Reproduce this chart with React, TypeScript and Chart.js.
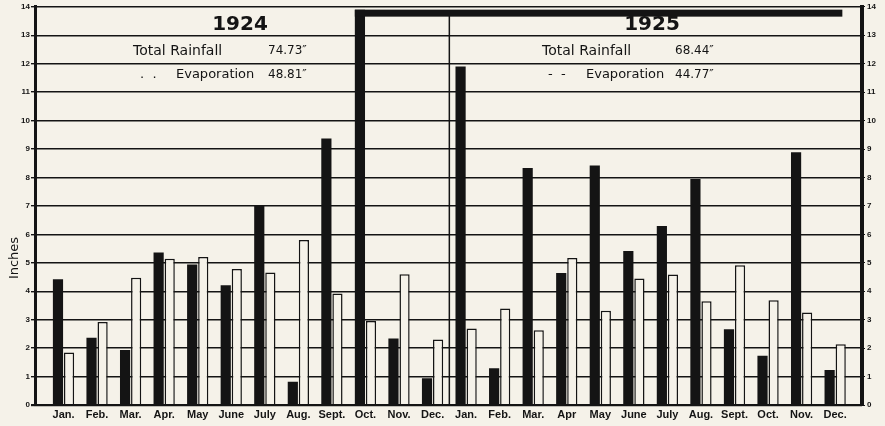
import React, { useEffect, useRef } from "react";
import { Chart, registerables } from "chart.js";

Chart.register(...registerables);

const months1924 = ["Jan.", "Feb.", "Mar.", "Apr.", "May", "June", "July", "Aug.", "Sept.", "Oct.", "Nov.", "Dec."];
const months1925 = ["Jan.", "Feb.", "Mar.", "Apr", "May", "June", "July", "Aug.", "Sept.", "Oct.", "Nov.", "Dec."];
const rainfall1924 = [4.42, 2.36, 1.93, 5.36, 4.94, 4.21, 7.0, 0.82, 9.37, 31.04, 2.34, 0.94];
const evaporation1924 = [1.85, 2.92, 4.47, 5.14, 5.2, 4.78, 4.66, 5.8, 3.92, 2.95, 4.6, 2.3];
const rainfall1925 = [11.9, 1.29, 8.33, 4.64, 8.42, 5.41, 6.29, 7.95, 2.66, 1.73, 8.89, 1.23];
const evaporation1925 = [2.69, 3.39, 2.63, 5.17, 3.31, 4.45, 4.59, 3.65, 4.91, 3.68, 3.25, 2.14];
const yearLabels = ["1924", "1925"];
const totalRainfall = ["74.73\u2033", "68.44\u2033"];
const totalEvaporation = ["48.81\u2033", "44.77\u2033"];
const yMin = 0;
const yMax = 14;
const turnValue = 13.9;

const BG = "#f5f2e9";
const INK = "#141414";

const labels = [...months1924, ...months1925];
const rainAll = [...rainfall1924, ...rainfall1925];
const evapAll = [...evaporation1924, ...evaporation1925];

const backgroundPlugin = {
  id: "bg",
  beforeDraw(chart: any) {
    const ctx = chart.ctx;
    ctx.save();
    ctx.fillStyle = BG;
    ctx.fillRect(0, 0, chart.width, chart.height);
    ctx.restore();
  },
};

const decorPlugin = {
  id: "decor",
  afterDatasetsDraw(chart: any) {
    const ctx = chart.ctx;
    const ys = chart.scales.y;
    const xs = chart.scales.x;
    const area = chart.chartArea;
    ctx.save();
    // year separator
    const sepX = (xs.getPixelForValue(months1924.length - 1) + xs.getPixelForValue(months1924.length)) / 2;
    ctx.strokeStyle = INK;
    ctx.lineWidth = 1.5;
    ctx.beginPath();
    ctx.moveTo(sepX, area.top + 4);
    ctx.lineTo(sepX, area.bottom);
    ctx.stroke();

    // overflow of bars beyond the top of the scale, wrapped along the top
    const meta = chart.getDatasetMeta(0);
    const perUnit = ys.getPixelForValue(0) - ys.getPixelForValue(1);
    meta.data.forEach((bar: any, i: number) => {
      const v = rainAll[i];
      if (v <= yMax) return;
      const { x, width } = bar.getProps(["x", "width"], true);
      const left = x - width / 2;
      const topY = ys.getPixelForValue(turnValue);
      const len = (v - turnValue) * perUnit;
      ctx.fillStyle = INK;
      ctx.fillRect(left, topY, len, 7);
    });

    // titles
    ctx.fillStyle = INK;
    ctx.textBaseline = "middle";
    const blocks = [
      { cx: 240, tl: 133, tv: 268, el: 176, dl: 140, ditto: ".  ." },
      { cx: 652, tl: 542, tv: 675, el: 586, dl: 548, ditto: "-  -" },
    ];
    blocks.forEach((b, i) => {
      ctx.textAlign = "center";
      ctx.font = "bold 20px 'DejaVu Sans'";
      ctx.fillText(yearLabels[i], b.cx, 25);
      ctx.textAlign = "left";
      ctx.font = "14px 'DejaVu Sans'";
      ctx.fillText("Total Rainfall", b.tl, 51);
      ctx.font = "12px 'DejaVu Sans'";
      ctx.fillText(totalRainfall[i], b.tv, 51);
      ctx.font = "13px 'DejaVu Sans'";
      ctx.fillText(b.ditto, b.dl, 75);
      ctx.fillText("Evaporation", b.el, 75);
      ctx.font = "12px 'DejaVu Sans'";
      ctx.fillText(totalEvaporation[i], b.tv, 75);
    });

    // y title
    ctx.translate(15, 258);
    ctx.rotate(-Math.PI / 2);
    ctx.textAlign = "center";
    ctx.font = "13px 'DejaVu Sans'";
    ctx.fillText("Inches", 0, 0);
    ctx.restore();
  },
};

export default function App() {
  const ref = useRef<HTMLCanvasElement | null>(null);

  useEffect(() => {
    if (!ref.current) return;
    const chart = new Chart(ref.current, {
      type: "bar",
      data: {
        datasets: [
          {
            label: "Rainfall",
            data: rainAll.map((v, i) => ({ x: i, y: v })),
            backgroundColor: INK,
            borderWidth: 0,
            clip: { left: 0, right: 0, top: -3, bottom: 0 } as any,
          },
          {
            label: "Evaporation",
            data: evapAll.map((v, i) => ({ x: i, y: v })),
            backgroundColor: BG,
            borderColor: INK,
            borderWidth: 1.5,
          },
        ],
      },
      options: {
        responsive: false,
        animation: false,
        layout: { padding: { top: 6, left: 0, right: 0, bottom: 0 } },
        datasets: { bar: { categoryPercentage: 0.66, barPercentage: 0.92, grouped: true } },
        plugins: { legend: { display: false }, tooltip: { enabled: false } },
        scales: {
          x: {
            type: "linear",
            offset: false,
            min: -0.85,
            max: 23.8,
            grid: { display: false, drawTicks: false },
            border: { display: false },
            afterBuildTicks: (axis: any) => {
              axis.ticks = labels.map((_, i) => ({ value: i }));
            },
            afterFit: (scale: any) => {
              scale.height = 21;
            },
            ticks: {
              autoSkip: false,
              maxRotation: 0,
              minRotation: 0,
              padding: 3,
              color: INK,
              font: { family: "'Liberation Sans'", size: 11, weight: "bold" },
              callback: (value: any) => labels[Math.round(Number(value))] ?? "",
            },
          },
          y: {
            position: "left",
            min: yMin,
            max: yMax,
            grid: {
              color: INK,
              lineWidth: (c: any) => (c.tick && c.tick.value === 0 ? 2.2 : 1.4),
              tickLength: 4,
            },
            border: { display: true, color: INK, width: 3 },
            afterFit: (scale: any) => {
              scale.width = 35;
            },
            ticks: {
              stepSize: 1,
              padding: 1,
              color: INK,
              font: { family: "'Liberation Sans'", size: 8, weight: "bold" },
            },
          },
          y2: {
            position: "right",
            min: yMin,
            max: yMax,
            grid: { drawOnChartArea: false, color: INK, tickLength: 3 },
            border: { display: true, color: INK, width: 4 },
            afterFit: (scale: any) => {
              scale.width = 23;
            },
            ticks: {
              stepSize: 1,
              padding: 2,
              color: INK,
              font: { family: "'Liberation Sans'", size: 8, weight: "bold" },
            },
          },
        },
      },
      plugins: [backgroundPlugin, decorPlugin],
    } as any);
    return () => chart.destroy();
  }, []);

  return (
    <div style={{ position: "fixed", left: 0, top: 0, width: 885, height: 426, background: BG }}>
      <canvas ref={ref} width={885} height={426} style={{ display: "block" }} />
    </div>
  );
}
